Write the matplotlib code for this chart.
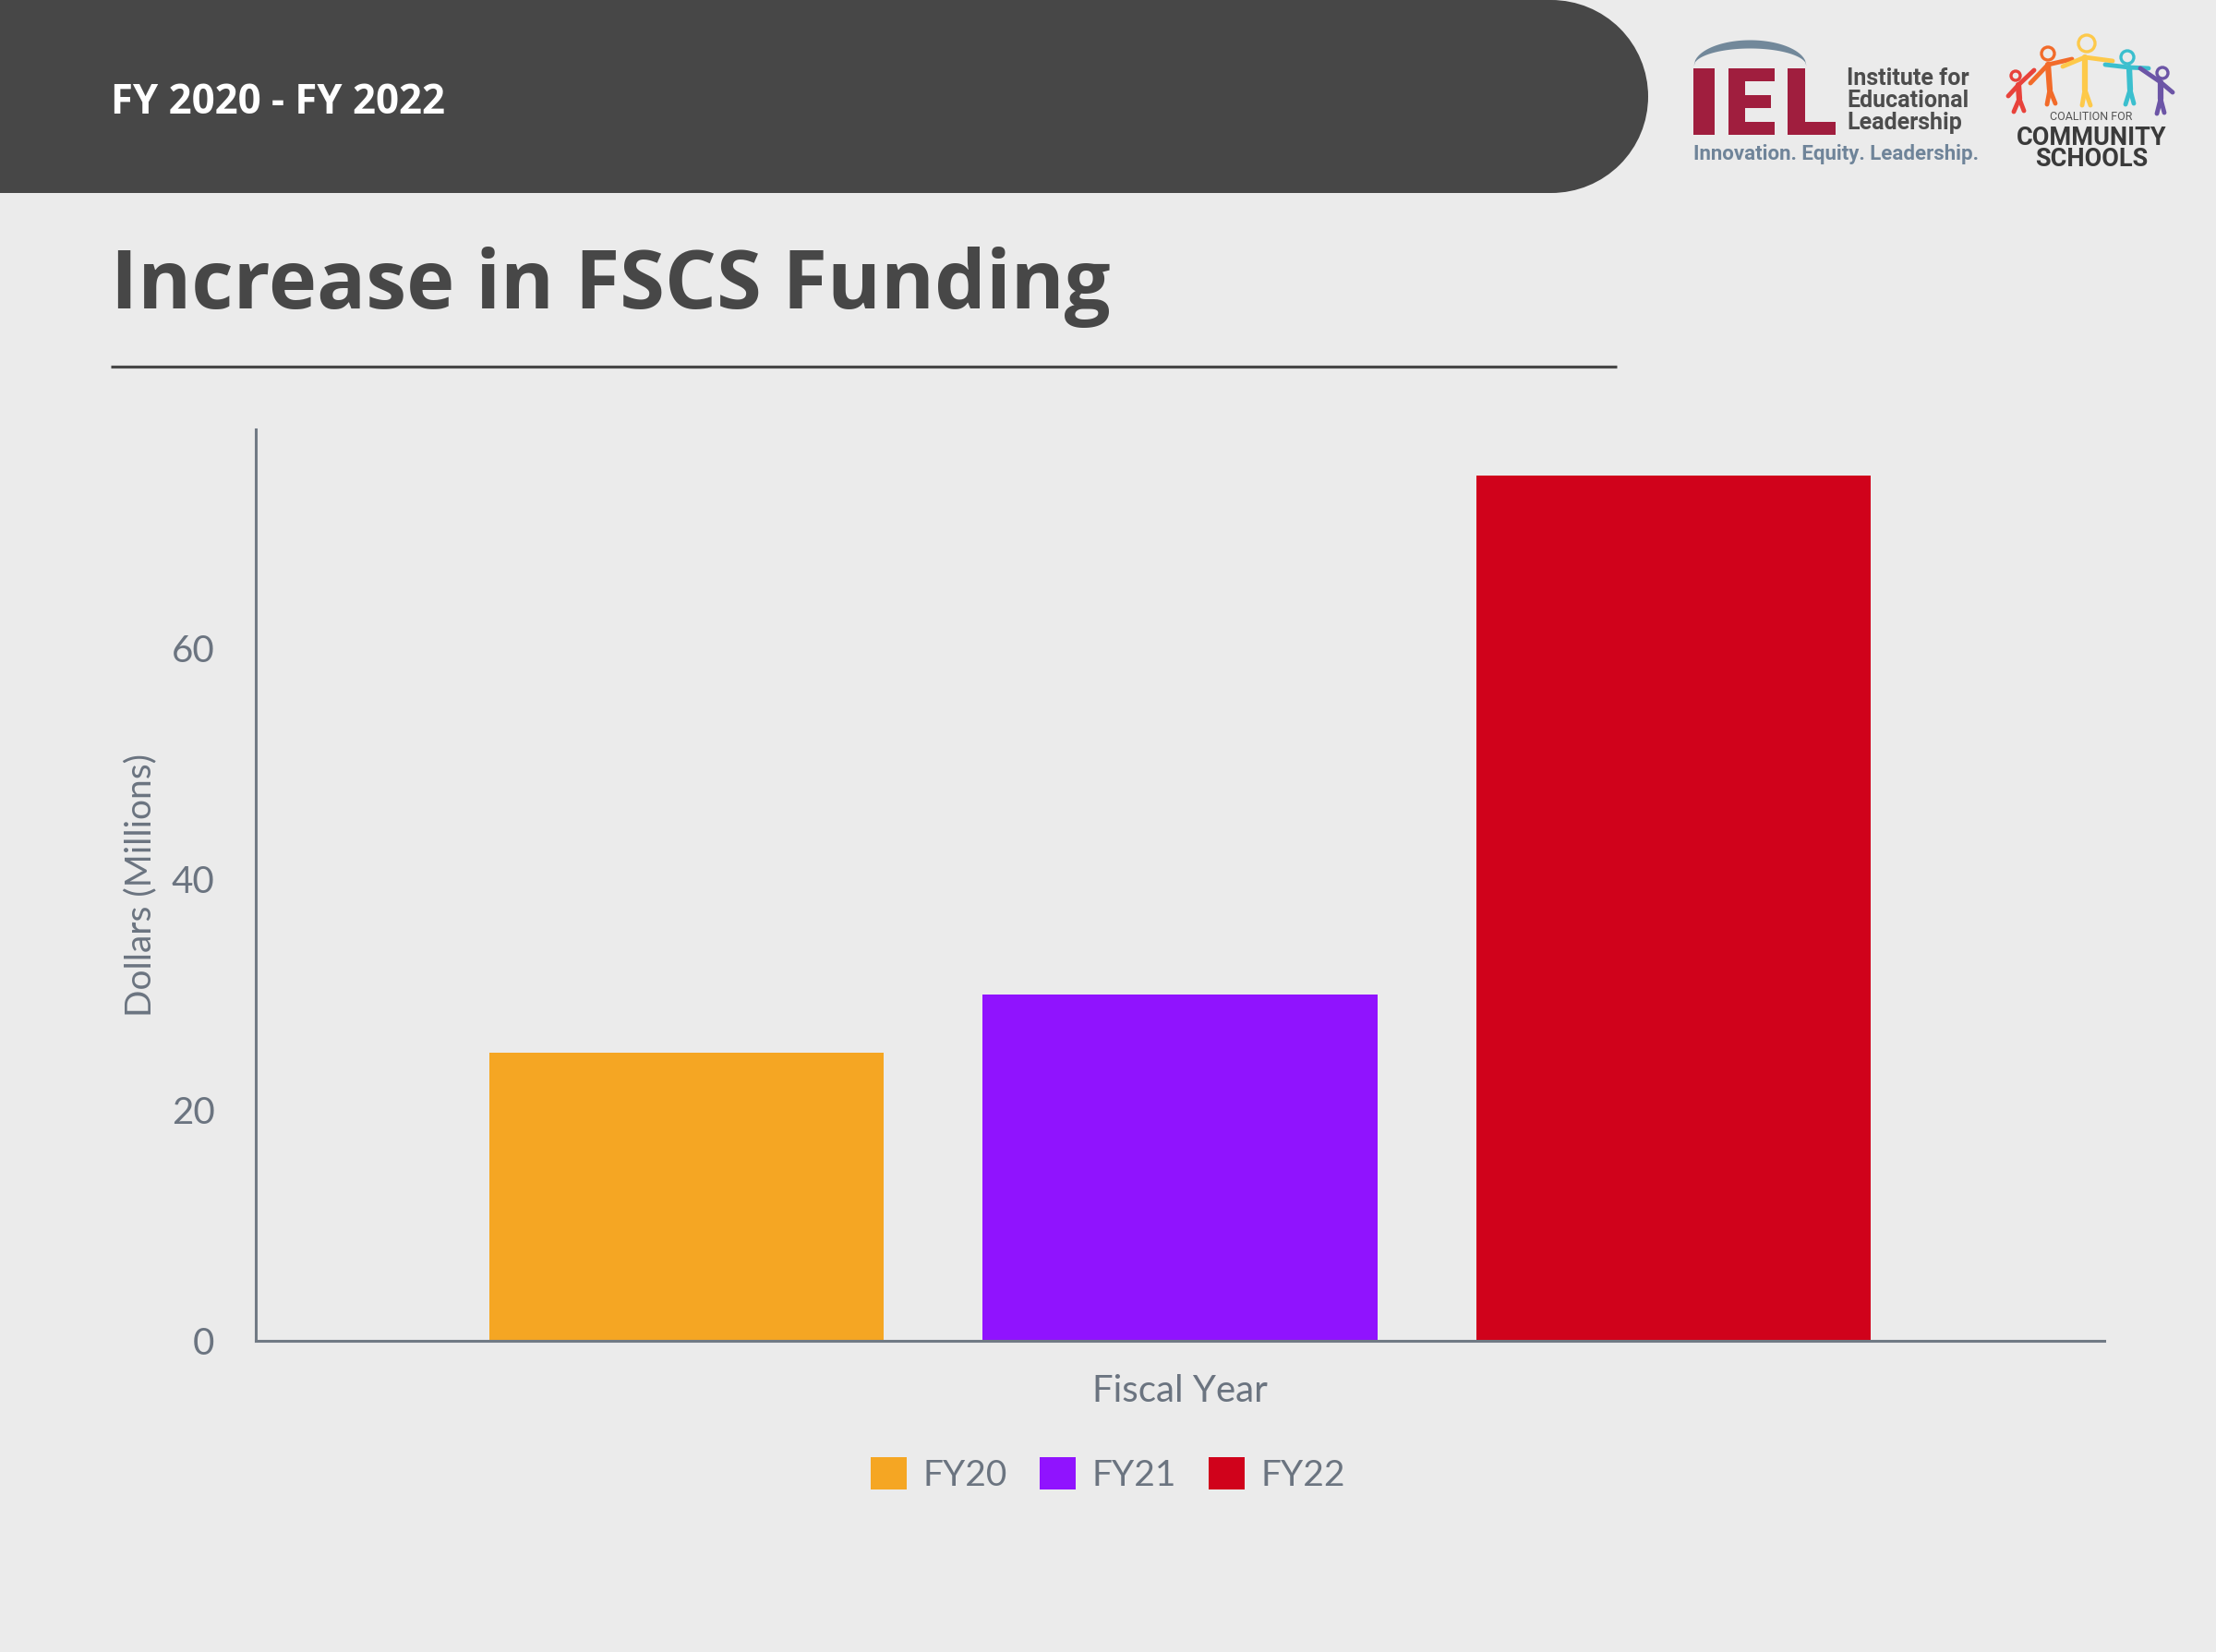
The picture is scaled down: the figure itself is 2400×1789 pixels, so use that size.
import matplotlib.pyplot as plt
import matplotlib.patches as mpatches
import numpy as np

# data
years = ["FY20", "FY21", "FY22"]
funding = [25, 30, 75]          # dollars, millions
bar_colors = ["#F5A623", "#9013FE", "#D0021B"]
y_ticks = [0, 20, 40, 60]

bg = "#EBEBEB"
grey = "#6B7480"

plt.rcParams['font.family'] = ['Lato', 'DejaVu Sans']

fig = plt.figure(figsize=(24, 17.89), dpi=100, facecolor=bg)

# decoration layer in pixel coords (y down)
deco = fig.add_axes([0, 0, 1, 1], zorder=0)
deco.set_xlim(0, 2400)
deco.set_ylim(1789, 0)
deco.axis('off')

# header band with round right end
deco.add_patch(mpatches.Rectangle((0, 0), 1680, 209, color="#474747", lw=0))
deco.add_patch(mpatches.Ellipse((1680, 104.5), 210, 209, color="#474747", lw=0))
deco.text(120, 123, "FY 2020 - FY 2022", color="white", fontsize=31.5, fontweight='bold',
          family='Open Sans', va='baseline', ha='left')

# title + rule
deco.text(120, 334, "Increase in FSCS Funding", color="#474747", fontsize=63.5,
          fontweight='bold', family='Open Sans', va='baseline', ha='left')
deco.plot([120, 1751], [397, 397], color="#474747", lw=2.3, solid_capstyle='butt')

# IEL logo
iel_red = "#A01E3E"
for (x0, y0, w, h) in [(1834, 74, 23, 72),
                       (1872, 74, 18, 72), (1872, 74, 50, 14), (1872, 103, 46, 14), (1872, 132, 50, 14),
                       (1936, 74, 19, 72), (1936, 132, 52, 14)]:
    deco.add_patch(mpatches.Rectangle((x0, y0), w, h, color=iel_red, lw=0))
ax_ = np.linspace(1834, 1956, 80)
t = np.sqrt(np.clip(1 - ((ax_ - 1895) / 61) ** 2, 0, 1))
deco.fill_between(ax_, 71 - 28 * t, 71 - 19 * t, color="#72889A", lw=0)
deco.text(2000, 109, "Institute for\nEducational\nLeadership", color="#4D4D4D", fontsize=18,
          fontweight='bold', family='Roboto', va='center', ha='left', linespacing=1.0)
deco.text(1834, 167, "Innovation. Equity. Leadership.", color="#6F8499", fontsize=16,
          fontweight='bold', family='Roboto', va='center', ha='left')

# Coalition for Community Schools logo
people = [
    ("#E8423B", (2183, 82), 5, (2186, 92), (2187, 107), [(2181, 121), (2192, 120)], (2175, 104), (2203, 76)),
    ("#F26B2A", (2218, 58), 7, (2218, 70), (2220, 97), [(2217, 113), (2226, 112)], (2199, 90), (2244, 64)),
    ("#FDC94A", (2260, 47), 9, (2258, 62), (2258, 97), [(2255, 114), (2264, 114)], (2234, 72), (2288, 66)),
    ("#3BBFCE", (2304, 62), 7, (2306, 73), (2307, 97), [(2302, 113), (2311, 112)], (2280, 70), (2327, 74)),
    ("#6C55A6", (2342, 79), 6, (2340, 89), (2340, 107), [(2336, 123), (2344, 122)], (2318, 74), (2353, 100)),
]
for col, head, r, sh, hip, legs, lh, rh in people:
    deco.add_patch(mpatches.Circle(head, r, fill=False, ec=col, lw=2.4))
    deco.plot([sh[0], hip[0]], [sh[1], hip[1]], color=col, lw=4.5, solid_capstyle='round')
    for lg in legs:
        deco.plot([hip[0], lg[0]], [hip[1], lg[1]], color=col, lw=3.5, solid_capstyle='round')
    deco.plot([lh[0], sh[0], rh[0]], [lh[1], sh[1], rh[1]], color=col, lw=3.5,
              solid_capstyle='round', solid_joinstyle='round')
deco.text(2265, 127, "COALITION FOR", color="#555555", fontsize=9, family='Roboto',
          va='center', ha='center')
deco.text(2265, 161, "COMMUNITY\nSCHOOLS", color="#3A3A3A", fontsize=19.5, fontweight='bold',
          family='Roboto', va='center', ha='center', linespacing=0.78)

# chart
ax = fig.add_axes([277 / 2400, 1 - 1452 / 1789, 2002 / 2400, 987 / 1789], zorder=1)
ax.patch.set_alpha(0)
x_pos = np.arange(len(years)) - 1
for x, v, c, lab in zip(x_pos, funding, bar_colors, years):
    ax.bar(x, v, width=0.8, color=c, label=lab, zorder=2)

ax.set_xlim(-1.873, 1.873)
ax.set_ylim(0, 79)
ax.set_xticks([])
ax.set_yticks(y_ticks)
ax.tick_params(axis='y', length=0, pad=32, labelsize=29, labelcolor=grey)
for s in ['top', 'right']:
    ax.spines[s].set_visible(False)
for s in ['left', 'bottom']:
    ax.spines[s].set_color("#717A84")
    ax.spines[s].set_linewidth(2.2)

ax.set_ylabel("Dollars (Millions)", fontsize=28, color=grey, va='center')
ax.yaxis.set_label_coords(-0.0624, 0.5)
ax.set_xlabel("Fiscal Year", fontsize=29, color=grey, va='center')
ax.xaxis.set_label_coords(0.5, -0.055)

fig.legend(loc='center', bbox_to_anchor=(0.5, 1 - 1597 / 1789), ncol=3, frameon=False,
           fontsize=28, labelcolor=grey, handlelength=1.0, handleheight=1.0,
           handletextpad=0.45, columnspacing=0.9)

fig.savefig("out.png", dpi=100, facecolor=bg)
